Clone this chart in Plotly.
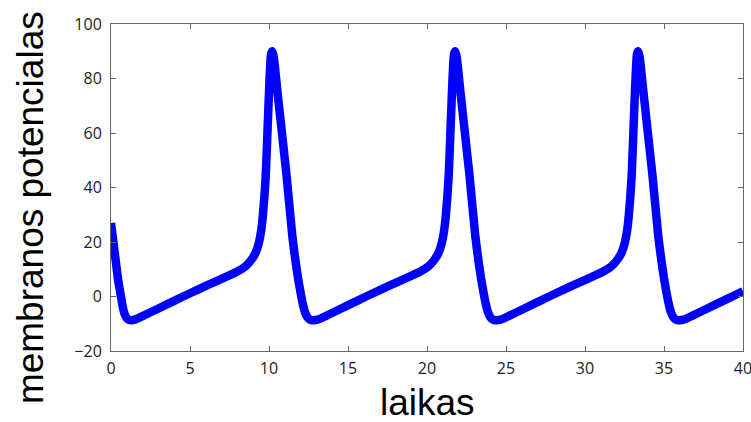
import plotly.graph_objects as go

# time (laikas) and membrane potential values
t = [0, 0.15, 0.3, 0.45, 0.6, 0.75, 0.9, 1.05, 1.25, 1.5, 2, 3, 4, 5, 6, 7, 8, 8.5,
     8.85, 9.15, 9.35, 9.5, 9.6, 9.7, 9.8, 9.9, 10.0, 10.07, 10.13, 10.2, 10.28, 10.37, 10.5,
     11.1, 11.48, 11.68, 11.83, 11.98, 12.13, 12.28, 12.43, 12.58, 12.78,
     13.08, 13.58, 14.58, 15.58, 16.58, 17.58, 18.58, 19.58, 20.08,
     20.43, 20.73, 20.93, 21.08, 21.18, 21.28, 21.38, 21.48, 21.58, 21.65, 21.71, 21.78, 21.86, 21.95, 22.08,
     22.68, 23.06, 23.26, 23.41, 23.56, 23.71, 23.86, 24.01, 24.16, 24.36,
     24.66, 25.16, 26.16, 27.16, 28.16, 29.16, 30.16, 31.16, 31.66,
     32.01, 32.31, 32.51, 32.66, 32.76, 32.86, 32.96, 33.06, 33.16, 33.23, 33.29, 33.36, 33.44, 33.53, 33.66,
     34.26, 34.64, 34.84, 34.99, 35.14, 35.29, 35.44, 35.59, 35.74, 35.94,
     36.24, 36.74, 37.74, 38.74, 39.74, 40]
v = [27, 20, 13, 6, 1, -4, -7, -8.3, -8.7, -8.5, -7.2, -4.4, -1.6, 1.2, 3.9, 6.5, 9.2, 11,
     13.2, 16, 19.5, 24, 29, 36, 45, 60, 75, 84, 89, 90, 88.5, 84.5, 77,
     45, 22, 13, 7, 2, -2.5, -5.8, -7.6, -8.4, -8.7,
     -8.5, -7.2, -4.4, -1.6, 1.2, 3.9, 6.5, 9.2, 11,
     13.2, 16, 19.5, 24, 29, 36, 45, 60, 75, 84, 89, 90, 88.5, 84.5, 77,
     45, 22, 13, 7, 2, -2.5, -5.8, -7.6, -8.4, -8.7,
     -8.5, -7.2, -4.4, -1.6, 1.2, 3.9, 6.5, 9.2, 11,
     13.2, 16, 19.5, 24, 29, 36, 45, 60, 75, 84, 89, 90, 88.5, 84.5, 77,
     45, 22, 13, 7, 2, -2.5, -5.8, -7.6, -8.4, -8.7,
     -8.5, -7.2, -4.4, -1.6, 1.2, 1.9]

x_ticks = [0, 5, 10, 15, 20, 25, 30, 35, 40]
y_ticks = [-20, 0, 20, 40, 60, 80, 100]
x_title = "laikas"
y_title = "membranos potencialas"

fig = go.Figure()
fig.add_trace(go.Scatter(x=t, y=v, mode="lines",
                         line=dict(color="#0000FF", width=8.5, shape="spline", smoothing=0.4),
                         showlegend=False, cliponaxis=True))

axis_common = dict(showline=True, linecolor="#666666", linewidth=1, mirror="ticks",
                   ticks="inside", ticklen=5, tickcolor="#666666", showgrid=False, zeroline=False,
                   ticklabeloverflow="allow", automargin=False,
                   tickfont=dict(family="Open Sans", size=16, color="#222222"))
fig.update_xaxes(range=[0, 40], tickvals=x_ticks, ticklabelstandoff=3, **axis_common)
fig.update_yaxes(range=[-20, 100], tickvals=y_ticks, ticklabelstandoff=5, **axis_common)

fig.update_layout(
    width=751, height=422,
    margin=dict(l=111, r=8, t=24, b=71),
    plot_bgcolor="white", paper_bgcolor="white",
    annotations=[
        dict(text=x_title, xref="paper", yref="paper", x=0.5, y=0, xanchor="center", yanchor="top",
             yshift=-29, showarrow=False, font=dict(family="Liberation Sans", size=37, color="black")),
        dict(text=y_title, xref="paper", yref="paper", x=0, y=0.437, xanchor="center", yanchor="middle",
             xshift=-81, textangle=-90, showarrow=False,
             font=dict(family="Liberation Sans", size=37, color="black")),
    ],
)

fig.write_html("out.html")
